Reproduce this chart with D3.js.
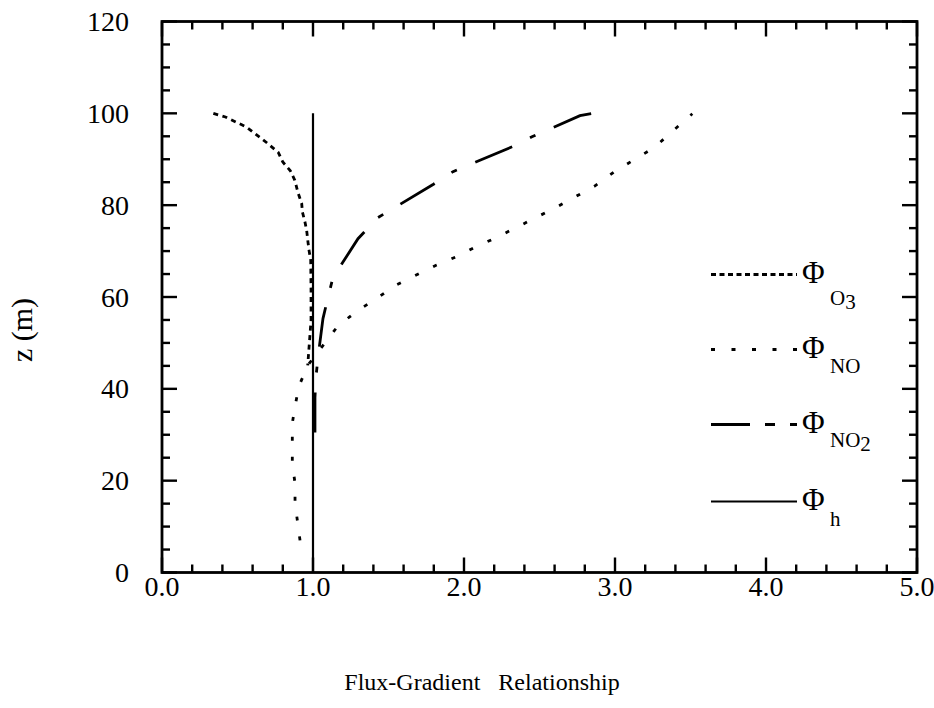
<!DOCTYPE html>
<html><head><meta charset="utf-8">
<script src="https://cdn.jsdelivr.net/npm/d3@7"></script>
<style>
html,body{margin:0;padding:0;background:#fff;}
</style></head>
<body>
<svg id="chart" width="934" height="708"></svg>
<script>
// ---- data ----
const xMajorTicks = [0, 1, 2, 3, 4, 5];
const xTickLabels = ["0.0", "1.0", "2.0", "3.0", "4.0", "5.0"];
const yMajorTicks = [0, 20, 40, 60, 80, 100, 120];
const yTickLabels = ["0", "20", "40", "60", "80", "100", "120"];

const phiO3 = [
  [0.34,100],[0.42,99.2],[0.56,97.0],[0.69,93.7],[0.77,91.5],[0.80,89.4],[0.85,87.5],
  [0.88,85.4],[0.90,82.8],[0.925,80.4],[0.93,78.5],[0.947,76.3],[0.958,74.5],[0.967,71.9],
  [0.974,70.1],[0.985,68.0],[0.987,61.4],[0.987,54.9],[0.965,45.1]
];
const phiNO = [
  [0.914,7.0],[0.881,15.1],[0.881,19.4],[0.863,23.8],[0.863,28.0],[0.863,32.5],[0.881,36.2],
  [0.907,40.6],[0.965,45.1],[1.163,53.6],[1.285,56.8],[1.422,59.7],[1.543,62.5],[1.815,66.9],
  [1.952,68.8],[2.077,70.9],[2.205,72.8],[2.338,75.0],[2.470,77.2],[2.598,79.3],[2.73,81.7],
  [2.863,84.1],[2.993,87.2],[3.126,89.9],[3.258,92.5],[3.391,96.4],[3.512,99.9]
];
const phiNO2 = [
  [1.013,30.5],[1.013,38.1],[1.02,42.7],[1.033,46.8],[1.066,55.3],[1.099,59.9],[1.132,64.2],
  [1.298,72.7],[1.430,77.3],[1.563,79.9],[1.795,84.5],[1.927,87.3],[2.086,89.5],[2.325,92.8],
  [2.45,94.9],[2.589,96.9],[2.768,99.5],[2.854,100.0]
];
const phiH = [[1.0,0],[1.0,100]];

const legendLabels = [
  {main:"Φ", sub:"O", sub2:"3"},
  {main:"Φ", sub:"NO", sub2:""},
  {main:"Φ", sub:"NO", sub2:"2"},
  {main:"Φ", sub:"h", sub2:""}
];
const xTitle = "Flux-Gradient\u00A0\u00A0\u00A0Relationship";
const yTitle = "z (m)";

// ---- layout ----
const FONT = "Liberation Serif";
const svg = d3.select("#chart");
const pL = 162, pR = 917, pT = 21.5, pB = 572.5;
const x = d3.scaleLinear().domain([0,5]).range([pL,pR]);
const y = d3.scaleLinear().domain([0,120]).range([pB,pT]);

const styles = [
  {data:phiO3, dash:"5,4.5", w:2.8},
  {data:phiNO, dash:"4,16", w:2.8},
  {data:phiNO2, dash:"40,20,6,20", w:2.8},
  {data:phiH, dash:null, w:2.2}
];

const line = d3.line().x(d=>x(d[0])).y(d=>y(d[1])).curve(d3.curveLinear);

styles.forEach(s=>{
  svg.append("path").attr("d", line(s.data)).attr("fill","none")
    .attr("stroke","#000").attr("stroke-width",s.w)
    .attr("stroke-dasharray", s.dash);
});

// ticks (inward, on all four sides)
const g = svg.append("g").attr("stroke","#000");
const xMinor = d3.range(0,5.0001,0.2).map(v=>+v.toFixed(2));
const yMinor = d3.range(0,120.0001,5);
xMinor.forEach(v=>{
  const major = xMajorTicks.includes(v);
  const L = major ? 15 : 8;
  g.append("line").attr("x1",x(v)).attr("x2",x(v)).attr("y1",pB).attr("y2",pB-L).attr("stroke-width",2.4);
  g.append("line").attr("x1",x(v)).attr("x2",x(v)).attr("y1",pT).attr("y2",pT+L).attr("stroke-width",2.4);
});
yMinor.forEach(v=>{
  const major = yMajorTicks.includes(v);
  const L = major ? 15 : 8;
  g.append("line").attr("y1",y(v)).attr("y2",y(v)).attr("x1",pL).attr("x2",pL+L).attr("stroke-width",2.4);
  g.append("line").attr("y1",y(v)).attr("y2",y(v)).attr("x1",pR).attr("x2",pR-L).attr("stroke-width",2.4);
});

// frame
svg.append("rect").attr("x",pL).attr("y",pT).attr("width",pR-pL).attr("height",pB-pT)
  .attr("fill","none").attr("stroke","#000").attr("stroke-width",2.8);

function txt(){ return svg.append("text").style("font-family",FONT).attr("fill","#000"); }

// tick labels
xMajorTicks.forEach((v,i)=>{
  txt().attr("x",x(v)).attr("y",596).attr("text-anchor","middle")
    .attr("font-size",28).text(xTickLabels[i]);
});
yMajorTicks.forEach((v,i)=>{
  txt().attr("x",129).attr("y",y(v)+9.5).attr("text-anchor","end")
    .attr("font-size",28).text(yTickLabels[i]);
});

// axis titles
txt().attr("x",482).attr("y",690).attr("text-anchor","middle")
  .attr("font-size",24).text(xTitle);
txt().attr("transform","translate(32,330) rotate(-90)").attr("text-anchor","middle")
  .attr("font-size",30).text(yTitle);

// legend
const legY = [274.5, 349.5, 424.5, 501.5];
const subDy = [30, 23.5, 22.5, 24];
const legDash = ["5,3.5", "4,16.5", "39,15,10,15,7,20", null];
styles.forEach((s,i)=>{
  const yy = legY[i];
  svg.append("path").attr("d", d3.line()([[711,yy],[797,yy]]))
    .attr("stroke","#000").attr("stroke-width",s.w).attr("fill","none")
    .attr("stroke-dasharray", legDash[i]);
  txt().attr("x",802).attr("y",yy+8.5).attr("font-size",31).text(legendLabels[i].main);
  const st = txt().attr("x",830).attr("y",yy+subDy[i]).attr("font-size",21);
  st.append("tspan").text(legendLabels[i].sub);
  if (legendLabels[i].sub2) st.append("tspan").attr("dy",4).text(legendLabels[i].sub2);
});
</script>
</body></html>
